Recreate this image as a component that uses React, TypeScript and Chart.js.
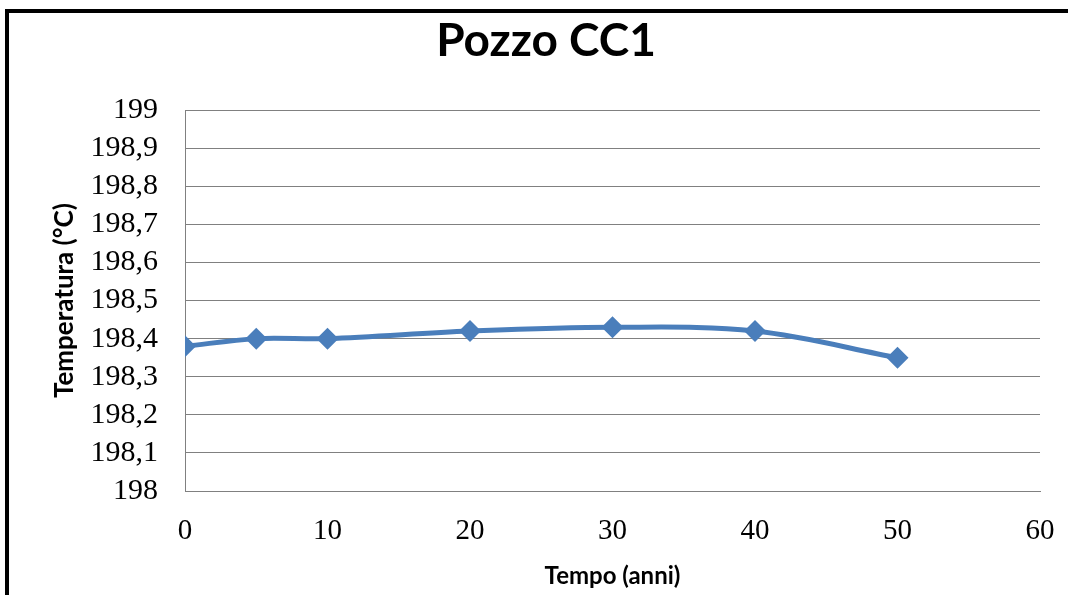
import React, { useEffect, useRef } from "react";
import { Chart, registerables } from "chart.js";

Chart.register(...registerables);

const chartTitle = "Pozzo CC1";
const xAxisTitle = "Tempo (anni)";
const yAxisTitle = "Temperatura (°C)";
const years = [0, 5, 10, 20, 30, 40, 50];
const temperatures = [198.38, 198.4, 198.4, 198.42, 198.43, 198.42, 198.35];
const xMin = 0;
const xMax = 60;
const xStep = 10;
const yMin = 198;
const yMax = 199;
const yStep = 0.1;

const fmt = (v: number) => {
  const r = Math.round(v * 10) / 10;
  return String(r).replace(".", ",");
};

export default function App() {
  const ref = useRef<HTMLCanvasElement | null>(null);

  useEffect(() => {
    if (!ref.current) return;
    const gridColor = "#808080";
    const chart = new Chart(ref.current, {
      type: "line",
      data: {
        datasets: [
          {
            data: years.map((x, i) => ({ x, y: temperatures[i] })),
            borderColor: "#4a7ebb",
            backgroundColor: "#4a7ebb",
            borderWidth: 5,
            pointStyle: "rectRot",
            pointRadius: 11,
            pointBorderWidth: 0,
            tension: 0.35,
            fill: false,
          },
        ],
      },
      options: {
        animation: false,
        responsive: false,
        maintainAspectRatio: false,
        layout: { padding: { left: 52, right: 28, top: 14, bottom: 0 } },
        plugins: {
          legend: { display: false },
          tooltip: { enabled: false },
          title: {
            display: true,
            text: chartTitle,
            color: "#000",
            font: { family: "Lato", weight: "bold", size: 46, lineHeight: 1.2 },
            padding: { top: 0, bottom: 41 },
          },
        },
        scales: {
          x: {
            type: "linear",
            min: xMin,
            max: xMax,
            ticks: {
              stepSize: xStep,
              color: "#000",
              padding: 23,
              autoSkip: false,
              font: { family: "'Liberation Serif'", size: 29 },
              maxRotation: 0,
            },
            grid: { display: false, drawTicks: false },
            border: { display: true, color: gridColor, width: 1 },
            title: {
              display: true,
              text: xAxisTitle,
              color: "#000",
              font: { family: "Lato", weight: "bold", size: 24, lineHeight: 1.2 },
              padding: { top: 0, bottom: 4 },
            },
            afterFit: (s: any) => {
              s.height = 104;
              s.paddingLeft = 0;
              s.paddingRight = 0;
            },
          },
          y: {
            type: "linear",
            min: yMin,
            max: yMax,
            ticks: {
              stepSize: yStep,
              color: "#000",
              padding: 27,
              autoSkip: false,
              font: { family: "'Liberation Serif'", size: 30, lineHeight: 1 },
              callback: (v: any) => fmt(Number(v)),
            },
            grid: { display: true, color: gridColor, lineWidth: 1, drawTicks: false },
            border: { display: true, color: gridColor, width: 1 },
            title: {
              display: true,
              text: yAxisTitle,
              color: "#000",
              font: { family: "Lato", weight: "bold", size: 26, lineHeight: 1 },
              padding: { top: 0, bottom: 0 },
            },
            afterFit: (s: any) => {
              s.width = 133;
            },
          },
        },
      },
    } as any);
    return () => chart.destroy();
  }, []);

  return (
    <div style={{ position: "absolute", left: 0, top: 0, width: 1068, height: 595, background: "#fff" }}>
      <canvas ref={ref} width={1068} height={595} style={{ position: "absolute", left: 0, top: 0, width: 1068, height: 595 }} />
      <div style={{ position: "absolute", left: 5, top: 9, width: 1063, height: 4, background: "#000" }} />
      <div style={{ position: "absolute", left: 5, top: 9, width: 4, height: 586, background: "#000" }} />
    </div>
  );
}
